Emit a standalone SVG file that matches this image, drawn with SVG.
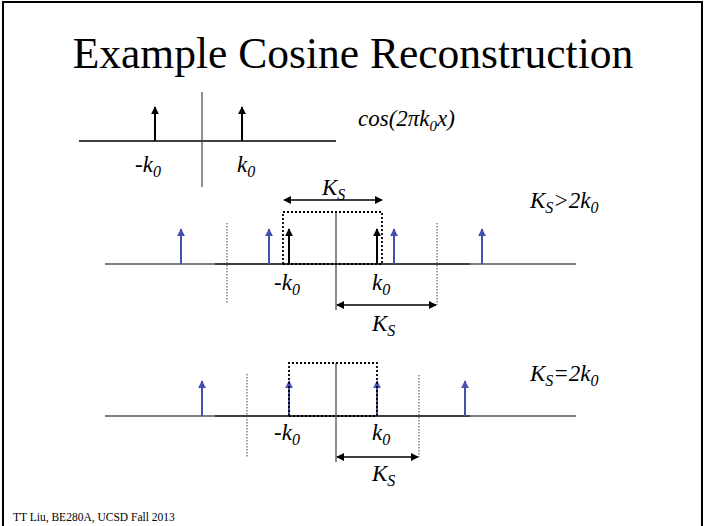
<svg xmlns="http://www.w3.org/2000/svg" width="707" height="526" viewBox="0 0 707 526">
<defs>
<marker id="ah" viewBox="0 0 10 10" refX="9" refY="5" markerWidth="8" markerHeight="8" markerUnits="userSpaceOnUse" orient="auto-start-reverse"><path d="M0,0 L10,5 L0,10 z" fill="#000"/></marker>
<marker id="ahb" viewBox="0 0 10 10" refX="9" refY="5" markerWidth="8" markerHeight="8" markerUnits="userSpaceOnUse" orient="auto"><path d="M0,0 L10,5 L0,10 z" fill="#4450b0"/></marker>
<style>
.t{font-family:"Liberation Serif","Times New Roman",serif;fill:#000}
.i{font-family:"Liberation Serif","Times New Roman",serif;font-style:italic;font-size:23px;fill:#000}
.ax{stroke:#000;stroke-width:1.3;fill:none}
.axg{stroke:#555;stroke-width:1.3;fill:none}
.vc{stroke:#666;stroke-width:1.5;fill:none}
.ar{stroke:#000;stroke-width:2;fill:none;marker-end:url(#ah)}
.bl{stroke:#4450b0;stroke-width:2;fill:none;marker-end:url(#ahb)}
.dr{stroke:#000;stroke-width:1.8;stroke-dasharray:2 2;fill:none}
.dv{stroke:#444;stroke-width:1;stroke-dasharray:1.5 1.5;fill:none}
.dbl{stroke:#000;stroke-width:1.5;fill:none;marker-start:url(#ah);marker-end:url(#ah)}
</style>
</defs>
<rect x="0" y="0" width="707" height="526" fill="#fff"/>
<rect x="3" y="2" width="699" height="530" fill="none" stroke="#000" stroke-width="2"/>
<text class="t" x="353" y="68" font-size="43.5" text-anchor="middle">Example Cosine Reconstruction</text>

<g id="top-plot">
<line class="ax" x1="79" y1="141" x2="336" y2="141"/>
<line class="vc" x1="202" y1="92" x2="202" y2="187" style="stroke:#444;stroke-width:1.2"/>
<line class="ar" x1="155" y1="141" x2="155" y2="107"/>
<line class="ar" x1="242" y1="141" x2="242" y2="107"/>
<text class="i" x="135" y="172">-k<tspan dy="5" font-size="16">0</tspan></text>
<text class="i" x="237" y="172">k<tspan dy="5" font-size="16">0</tspan></text>
<text class="i" x="358" y="126" font-size="22">cos(2πk<tspan dy="5" font-size="15">0</tspan><tspan dy="-5">x)</tspan></text>
</g>

<g id="middle-plot">
<line class="axg" x1="105" y1="264" x2="215" y2="264"/>
<line class="ax" x1="215" y1="264" x2="470" y2="264"/>
<line class="axg" x1="470" y1="264" x2="576" y2="264"/>
<line class="vc" x1="336" y1="212" x2="336" y2="310"/>
<path class="dr" d="M283,264 V212 H382 V264 H283"/>
<line class="dv" x1="227" y1="223" x2="227" y2="304"/>
<line class="dv" x1="437" y1="223" x2="437" y2="305"/>
<line class="bl" x1="181" y1="264" x2="181" y2="229"/>
<line class="bl" x1="269" y1="264" x2="269" y2="229"/>
<line class="bl" x1="394" y1="264" x2="394" y2="229"/>
<line class="bl" x1="482" y1="264" x2="482" y2="229"/>
<line class="ar" x1="289" y1="264" x2="289" y2="229"/>
<line class="ar" x1="377" y1="264" x2="377" y2="229"/>
<line class="dbl" x1="284" y1="200" x2="382" y2="200"/>
<line class="dbl" x1="337" y1="305" x2="436" y2="305"/>
<text class="i" x="322" y="195">K<tspan dy="5" font-size="16">S</tspan></text>
<text class="i" x="372" y="331">K<tspan dy="5" font-size="16">S</tspan></text>
<text class="i" x="274" y="290">-k<tspan dy="5" font-size="16">0</tspan></text>
<text class="i" x="372" y="290">k<tspan dy="5" font-size="16">0</tspan></text>
<text class="i" x="530" y="208">K<tspan dy="5" font-size="16">S</tspan><tspan dy="-5">&gt;2k</tspan><tspan dy="5" font-size="16">0</tspan></text>
</g>

<g id="bottom-plot">
<line class="axg" x1="105" y1="416" x2="215" y2="416"/>
<line class="ax" x1="215" y1="416" x2="470" y2="416"/>
<line class="axg" x1="470" y1="416" x2="576" y2="416"/>
<line class="vc" x1="336" y1="363" x2="336" y2="462"/>
<line class="dv" x1="247" y1="374" x2="247" y2="457"/>
<line class="dv" x1="419" y1="375" x2="419" y2="457"/>
<line class="bl" x1="202" y1="416" x2="202" y2="381"/>
<line class="bl" x1="465" y1="416" x2="465" y2="381"/>
<line class="bl" x1="289" y1="416" x2="289" y2="381"/>
<line class="bl" x1="377" y1="416" x2="377" y2="381"/>
<path class="dr" d="M289,416 V363 H377 V416 H289"/>
<line class="dbl" x1="337" y1="457" x2="418" y2="457"/>
<text class="i" x="372" y="481">K<tspan dy="5" font-size="16">S</tspan></text>
<text class="i" x="274" y="440">-k<tspan dy="5" font-size="16">0</tspan></text>
<text class="i" x="372" y="440">k<tspan dy="5" font-size="16">0</tspan></text>
<text class="i" x="530" y="381">K<tspan dy="5" font-size="16">S</tspan><tspan dy="-5">=2k</tspan><tspan dy="5" font-size="16">0</tspan></text>
</g>

<text class="t" x="13" y="521" font-size="11.5">TT Liu, BE280A, UCSD Fall 2013</text>
</svg>
